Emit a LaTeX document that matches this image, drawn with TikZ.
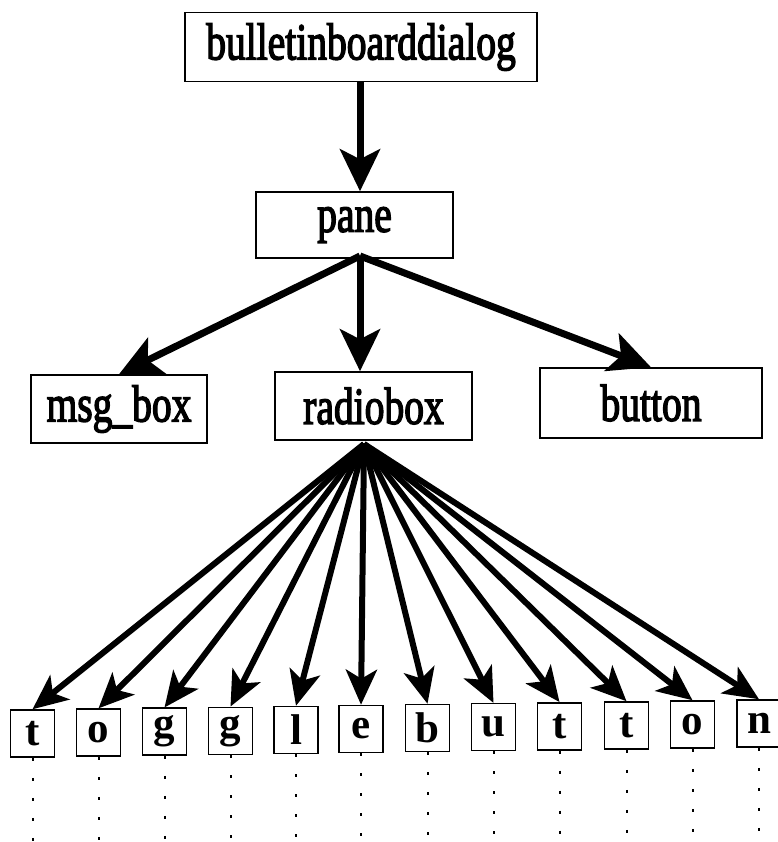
\documentclass[tikz,border=0pt]{standalone}
\usepackage{fontspec}
\setmainfont{Liberation Serif}
\newfontfamily\labelfont[FakeBold=3]{Liberation Serif}
\usetikzlibrary{arrows.meta}
\begin{document}
\begin{tikzpicture}[x=1pt,y=-1pt,
 box/.style={draw,line width=1.5pt,inner sep=0pt,font=\labelfont\fontsize{52}{52}\selectfont},
 letterbox/.style={draw,line width=1.5pt,inner sep=0pt,minimum width=44pt,minimum height=47pt,font=\bfseries\fontsize{43}{43}\selectfont},
 bigarrow/.style={line width=7pt,-{Stealth[length=42pt,width=40pt,inset=10pt]}},
 fanarrow/.style={line width=6pt,-{Stealth[length=35pt,width=31pt,inset=9pt]}},
 dotline/.style={line width=2pt,dash pattern=on 3pt off 17pt}]
\useasboundingbox (0,0) rectangle (777,842);
\node[box,minimum width=352pt,minimum height=69pt] (top) at (361,47) {\scalebox{0.76}[1]{bulletinboarddialog}};
\node[box,minimum width=197pt,minimum height=66pt] (pane) at (354.5,225) {\scalebox{0.76}[1]{pane}};
\node[box,minimum width=176pt,minimum height=68pt] (msg) at (119,409) {\scalebox{0.76}[1]{msg\_box}};
\node[box,minimum width=197pt,minimum height=68pt] (radio) at (373.5,406) {\scalebox{0.76}[1]{radiobox}};
\node[box,minimum width=222pt,minimum height=70pt] (button) at (651,403) {\scalebox{0.76}[1]{button}};
\coordinate (ps) at (360,256);
\coordinate (rs) at (364,444);
\draw[bigarrow] (top.south -| ps) -- (ps |- pane.north);
\draw[bigarrow] (ps) -- (msg.north);
\draw[bigarrow] (ps) -- (ps |- radio.north);
\draw[bigarrow] (ps) -- (button.north);
\foreach \c/\x/\y [count=\i] in {t/32.5/733.5, o/98.5/732.6, g/164.5/731.7, g/230.5/730.8, l/296/730, e/361/729, b/427.5/728, u/493.5/727.2, t/559.5/726.3, t/626.5/725.5, o/692.5/724.5, n/759/723.5}{
  \node[letterbox] (l\i) at (\x,\y) {\c};
  \draw[fanarrow] (rs) -- (l\i.north);
  \coordinate (d\i) at (\x,842);
  \draw[dotline] (l\i.south) -- (d\i);
}
\end{tikzpicture}
\end{document}
